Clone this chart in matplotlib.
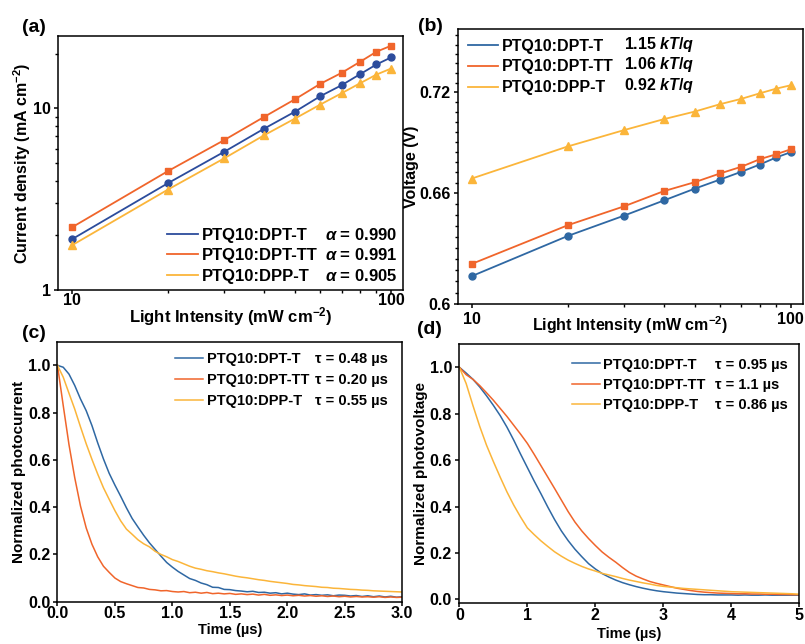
import numpy as np
import matplotlib
matplotlib.use('Agg')
import matplotlib.pyplot as plt
from matplotlib import ticker

plt.rcParams['font.family'] = ['Liberation Sans', 'DejaVu Sans']
plt.rcParams['font.weight'] = 'bold'
plt.rcParams['axes.labelweight'] = 'bold'
plt.rcParams['mathtext.fontset'] = 'custom'
plt.rcParams['mathtext.rm'] = 'Liberation Sans:bold'
plt.rcParams['mathtext.bf'] = 'Liberation Sans:bold'
plt.rcParams['mathtext.it'] = 'Liberation Sans:bold:italic'
plt.rcParams['axes.linewidth'] = 1.1

# ---------------- data ----------------
names = ['PTQ10:DPT-T', 'PTQ10:DPT-TT', 'PTQ10:DPP-T']

# (a) Jsc vs light intensity
intensity = [10, 20, 30, 40, 50, 60, 70, 80, 90, 100]
jsc_dpt_t = [1.90, 3.87, 5.76, 7.72, 9.58, 11.65, 13.40, 15.41, 17.43, 19.05]
jsc_dpt_tt = [2.21, 4.51, 6.68, 8.96, 11.21, 13.63, 15.67, 18.03, 20.48, 22.09]
jsc_dpp_t = [1.76, 3.57, 5.30, 7.10, 8.78, 10.48, 12.10, 13.74, 15.33, 16.55]
alpha_labels = [r'$\alpha$ = 0.990', r'$\alpha$ = 0.991', r'$\alpha$ = 0.905']

# (b) Voc vs light intensity
voc_dpt_t = [0.6147, 0.6363, 0.6475, 0.6560, 0.6627, 0.6679, 0.6724, 0.6766, 0.6807, 0.6838]
voc_dpt_tt = [0.6212, 0.6422, 0.6527, 0.6613, 0.6664, 0.6714, 0.6753, 0.6797, 0.6826, 0.6855]
voc_dpp_t = [0.6685, 0.6872, 0.6969, 0.7035, 0.7081, 0.7126, 0.7159, 0.7193, 0.7222, 0.7243]
n_labels = [r'1.15 $kT/q$', r'1.06 $kT/q$', r'0.92 $kT/q$']

# (c) TPC, time step 0.05 us
tpc_time = [round(0.05 * i, 2) for i in range(61)]
tpc_dpt_t = [1.000, 0.992, 0.963, 0.915, 0.858, 0.808, 0.745, 0.672, 0.604, 0.543,
             0.493, 0.446, 0.397, 0.352, 0.316, 0.281, 0.249, 0.221, 0.193, 0.166,
             0.146, 0.128, 0.113, 0.098, 0.090, 0.079, 0.072, 0.061, 0.060, 0.052,
             0.051, 0.047, 0.045, 0.042, 0.044, 0.039, 0.040, 0.036, 0.038, 0.033,
             0.036, 0.032, 0.030, 0.033, 0.028, 0.030, 0.027, 0.029, 0.025, 0.028,
             0.027, 0.024, 0.026, 0.022, 0.025, 0.021, 0.024, 0.020, 0.023, 0.019,
             0.021]
tpc_dpt_tt = [1.000, 0.830, 0.665, 0.525, 0.405, 0.312, 0.243, 0.190, 0.150, 0.124,
              0.100, 0.085, 0.076, 0.068, 0.060, 0.058, 0.052, 0.050, 0.046, 0.047,
              0.043, 0.041, 0.043, 0.038, 0.040, 0.036, 0.039, 0.034, 0.036, 0.033,
              0.035, 0.031, 0.033, 0.030, 0.032, 0.028, 0.031, 0.027, 0.029, 0.026,
              0.028, 0.025, 0.027, 0.024, 0.026, 0.023, 0.025, 0.022, 0.024, 0.021,
              0.023, 0.020, 0.022, 0.020, 0.021, 0.019, 0.021, 0.018, 0.020, 0.018,
              0.019]
tpc_dpp_t = [1.000, 0.950, 0.882, 0.815, 0.740, 0.668, 0.602, 0.540, 0.482, 0.433,
             0.385, 0.342, 0.307, 0.285, 0.262, 0.245, 0.232, 0.213, 0.200, 0.190,
             0.178, 0.170, 0.160, 0.150, 0.142, 0.137, 0.131, 0.127, 0.122, 0.118,
             0.113, 0.108, 0.104, 0.101, 0.097, 0.093, 0.090, 0.086, 0.083, 0.080,
             0.077, 0.073, 0.071, 0.068, 0.066, 0.064, 0.061, 0.060, 0.057, 0.056,
             0.054, 0.052, 0.051, 0.049, 0.048, 0.046, 0.045, 0.044, 0.043, 0.042,
             0.041]
tau_c_labels = ['τ = 0.48 µs', 'τ = 0.20 µs', 'τ = 0.55 µs']

# (d) TPV, time step 0.1 us
tpv_time = [round(0.1 * i, 1) for i in range(51)]
tpv_dpt_t = [1.000, 0.975, 0.948, 0.915, 0.877, 0.836, 0.792, 0.742, 0.686, 0.626,
             0.568, 0.510, 0.455, 0.398, 0.344, 0.295, 0.253, 0.216, 0.184, 0.154,
             0.131, 0.111, 0.096, 0.083, 0.072, 0.063, 0.055, 0.048, 0.042, 0.037,
             0.033, 0.030, 0.027, 0.025, 0.023, 0.021, 0.020, 0.020, 0.019, 0.019,
             0.019, 0.018, 0.019, 0.018, 0.018, 0.019, 0.018, 0.018, 0.018, 0.018,
             0.018]
tpv_dpt_tt = [1.000, 0.968, 0.948, 0.921, 0.890, 0.858, 0.823, 0.788, 0.750, 0.712,
              0.672, 0.625, 0.576, 0.527, 0.478, 0.428, 0.378, 0.333, 0.295, 0.262,
              0.232, 0.204, 0.181, 0.160, 0.137, 0.116, 0.100, 0.088, 0.077, 0.069,
              0.062, 0.055, 0.048, 0.043, 0.038, 0.034, 0.031, 0.029, 0.027, 0.026,
              0.025, 0.024, 0.024, 0.023, 0.023, 0.022, 0.022, 0.021, 0.021, 0.020,
              0.020]
tpv_dpp_t = [1.000, 0.930, 0.835, 0.745, 0.664, 0.594, 0.527, 0.463, 0.406, 0.355,
             0.308, 0.279, 0.252, 0.228, 0.205, 0.186, 0.169, 0.155, 0.142, 0.131,
             0.122, 0.112, 0.105, 0.098, 0.090, 0.083, 0.077, 0.071, 0.066, 0.060,
             0.056, 0.053, 0.050, 0.047, 0.045, 0.043, 0.041, 0.039, 0.037, 0.035,
             0.033, 0.032, 0.031, 0.030, 0.029, 0.028, 0.027, 0.026, 0.025, 0.024,
             0.022]
tau_d_labels = ['τ = 0.95 µs', 'τ = 1.1 µs', 'τ = 0.86 µs']

# colours
blue_a = '#2c4c9c'
blue = '#2f68a3'
orange = '#f0652b'
yellow = '#fbb53a'


def style_axis(ax, xpad=2):
    ax.tick_params(which='major', direction='out', length=3.2, width=1.1,
                   labelsize=11.5, pad=2, top=False, right=False)
    ax.tick_params(axis='x', which='major', pad=xpad)
    ax.tick_params(which='minor', direction='out', length=2.2, width=1.0,
                   top=False, right=False)


def legend_with_values(ax, handles, values, fs, anchor, hl, htp, ls, xval):
    # names in a legend, the fit values in a second column lined up on each row
    leg = ax.legend(handles, names, loc='upper left', bbox_to_anchor=anchor,
                    frameon=False, fontsize=fs, handlelength=hl,
                    handletextpad=htp, labelspacing=ls, borderaxespad=0,
                    borderpad=0)
    for txt, val in zip(leg.get_texts(), values):
        ax.annotate(val, xy=(xval, 0), xycoords=('axes fraction', txt),
                    va='bottom', ha='left', fontsize=fs, fontweight='bold',
                    zorder=6)
    return leg


fig = plt.figure(figsize=(8.05, 6.44), dpi=100)
ax_a = fig.add_axes([0.0720, 0.5497, 0.4286, 0.3944])
ax_b = fig.add_axes([0.5689, 0.5275, 0.4282, 0.4270])
ax_c = fig.add_axes([0.0714, 0.0657, 0.4283, 0.4037])
ax_d = fig.add_axes([0.5706, 0.0632, 0.4224, 0.4026])

# ---------------- (a) ----------------
handles = []
for ys, col, mk, ms in [(jsc_dpt_t, blue_a, 'o', 5), (jsc_dpt_tt, orange, 's', 5),
                        (jsc_dpp_t, yellow, '^', 5.7)]:
    ln, = ax_a.plot(intensity, ys, '-', color=col, lw=1.3)
    ax_a.plot(intensity, ys, linestyle='none', marker=mk, ms=ms, color=col)
    handles.append(ln)
ax_a.set_xscale('log')
ax_a.set_yscale('log')
ax_a.set_xlim(9.05, 109)
ax_a.set_ylim(1, 25)
ax_a.set_xticks([10, 100], ['10', '100'])
ax_a.set_yticks([1, 10], ['1', '10'])
ax_a.xaxis.set_minor_locator(ticker.LogLocator(base=10, subs=range(2, 10)))
ax_a.yaxis.set_minor_locator(ticker.LogLocator(base=10, subs=range(2, 10)))
ax_a.xaxis.set_minor_formatter(ticker.NullFormatter())
ax_a.yaxis.set_minor_formatter(ticker.NullFormatter())
style_axis(ax_a, xpad=-1)
ax_a.set_xlabel('Light Intensity (mW cm$^{-2}$)', fontsize=12, labelpad=-2)
ax_a.set_ylabel('Current density (mA cm$^{-2}$)', fontsize=11.5, labelpad=0)
legend_with_values(ax_a, handles, alpha_labels, 12, (0.316, 0.245),
                   1.85, 0.22, 0.33, 0.774)

# ---------------- (b) ----------------
handles = []
for ys, col, mk, ms in [(voc_dpt_t, blue, 'o', 5), (voc_dpt_tt, orange, 's', 5),
                        (voc_dpp_t, yellow, '^', 5.7)]:
    ln, = ax_b.plot(intensity, ys, '-', color=col, lw=1.3)
    ax_b.plot(intensity, ys, linestyle='none', marker=mk, ms=ms, color=col)
    handles.append(ln)
ax_b.set_xscale('log')
ax_b.set_yscale('log')
ax_b.set_xlim(9.05, 109)
ax_b.set_ylim(0.6, 0.76)
ax_b.set_xticks([10, 100], ['10', '100'])
ax_b.set_yticks([0.6, 0.66, 0.72], ['0.6', '0.66', '0.72'])
ax_b.xaxis.set_minor_locator(ticker.LogLocator(base=10, subs=range(2, 10)))
ax_b.yaxis.set_minor_locator(ticker.FixedLocator(np.arange(0.606, 0.76, 0.006)))
ax_b.xaxis.set_minor_formatter(ticker.NullFormatter())
ax_b.yaxis.set_minor_formatter(ticker.NullFormatter())
style_axis(ax_b, xpad=2)
ax_b.set_xlabel('Light Intensity (mW cm$^{-2}$)', fontsize=11.5, labelpad=-9)
ax_b.set_ylabel('Voltage (V)', fontsize=11.5, labelpad=0.5)
legend_with_values(ax_b, handles, n_labels, 11.5, (0.029, 0.966),
                   1.88, 0.23, 0.36, 0.4816)

# ---------------- (c) ----------------
handles = []
for ys, col in [(tpc_dpt_t, blue), (tpc_dpt_tt, orange), (tpc_dpp_t, yellow)]:
    ln, = ax_c.plot(tpc_time, ys, '-', color=col, lw=1.1)
    handles.append(ln)
ax_c.set_xlim(0, 3)
ax_c.set_ylim(0, 1.1)
ax_c.set_xticks(np.arange(0, 3.01, 0.5))
ax_c.set_yticks(np.arange(0, 1.01, 0.2))
ax_c.xaxis.set_major_formatter(ticker.FormatStrFormatter('%.1f'))
ax_c.yaxis.set_major_formatter(ticker.FormatStrFormatter('%.1f'))
style_axis(ax_c, xpad=0)
ax_c.set_xlabel('Time (µs)', fontsize=10.5, labelpad=1)
ax_c.set_ylabel('Normalized photocurrent', fontsize=11, labelpad=1)
legend_with_values(ax_c, handles, tau_c_labels, 10.5, (0.341, 0.961),
                   1.92, 0.25, 0.49, 0.7468)

# ---------------- (d) ----------------
handles = []
for ys, col in [(tpv_dpt_t, blue), (tpv_dpt_tt, orange), (tpv_dpp_t, yellow)]:
    ln, = ax_d.plot(tpv_time, ys, '-', color=col, lw=1.1)
    handles.append(ln)
ax_d.set_xlim(0, 5)
ax_d.set_ylim(-0.017, 1.1)
ax_d.set_xticks(range(0, 6))
ax_d.set_yticks(np.arange(0, 1.01, 0.2))
ax_d.yaxis.set_major_formatter(ticker.FormatStrFormatter('%.1f'))
style_axis(ax_d, xpad=0)
ax_d.set_xlabel('Time (µs)', fontsize=10.5, labelpad=3)
ax_d.set_ylabel('Normalized photovoltage', fontsize=11, labelpad=1)
legend_with_values(ax_d, handles, tau_d_labels, 10.5, (0.331, 0.948),
                   1.94, 0.16, 0.44, 0.752)

# panel labels
for x, y, s in [(0.027, 0.970, '(a)'), (0.519, 0.972, '(b)'),
                (0.027, 0.496, '(c)'), (0.518, 0.502, '(d)')]:
    fig.text(x, y, s, fontsize=14, fontweight='bold', va='top', ha='left')

fig.savefig('out.png', dpi=100)
